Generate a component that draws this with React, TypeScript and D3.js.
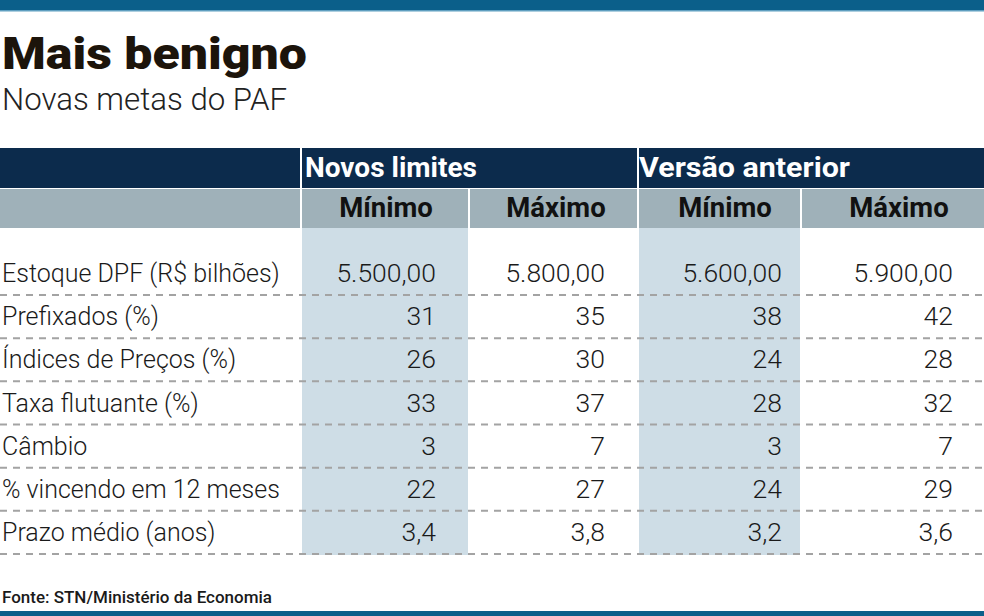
import React from "react";
import * as d3 from "d3";

const title = "Mais benigno";
const subtitle = "Novas metas do PAF";
const source = "Fonte: STN/Ministério da Economia";
const groups = ["Novos limites", "Versão anterior"];
const subHeaders = ["Mínimo", "Máximo", "Mínimo", "Máximo"];
const rowLabels = [
  "Estoque DPF (R$ bilhões)",
  "Prefixados (%)",
  "Índices de Preços (%)",
  "Taxa flutuante (%)",
  "Câmbio",
  "% vincendo em 12 meses",
  "Prazo médio (anos)",
];
const rowFormats = [",.2f", "d", "d", "d", "d", "d", ".1f"];
const novosMin = [5500, 31, 26, 33, 3, 22, 3.4];
const novosMax = [5800, 35, 30, 37, 7, 27, 3.8];
const anteriorMin = [5600, 38, 24, 28, 3, 24, 3.2];
const anteriorMax = [5900, 42, 28, 32, 7, 29, 3.6];

const columns = [novosMin, novosMax, anteriorMin, anteriorMax];

const locale = d3.formatLocale({
  decimal: ",",
  thousands: ".",
  grouping: [3],
  currency: ["R$", ""],
});

const W = 984;
const H = 616;
const FONT = "Roboto, 'Open Sans', sans-serif";

export default function App() {
  const colLeft = [302, 470, 639, 802];
  const colRight = [469, 638, 801, 984];
  const valueRight = [436, 605, 782, 953];
  const headerCenter = [386, 556, 725, 899];
  const groupLeft = [302, 639];
  const groupX = [305, 639];
  const groupWidth = [172, 211];

  const sepY = d3.scaleLinear().domain([0, rowLabels.length - 1]).range([295, 554]);

  return (
    <svg
      width={W}
      height={H}
      viewBox={`0 0 ${W} ${H}`}
      style={{ position: "absolute", left: 0, top: 0, background: "#fff" }}
      fontFamily={FONT}
    >
      <rect x={0} y={0} width={W} height={H} fill="#ffffff" />
      <rect x={0} y={0} width={W} height={10} fill="#0b5f8a" />
      <rect x={0} y={10} width={W} height={1.5} fill="#5f9fc0" />

      <text
        x={2}
        y={69}
        fontSize={45}
        fontWeight={900}
        fill="#1c140b"
        textLength={305}
        lengthAdjust="spacingAndGlyphs"
      >
        {title}
      </text>
      <text x={2} y={110} fontSize={31} fontWeight={300} fill="#222" textLength={285} lengthAdjust="spacingAndGlyphs">
        {subtitle}
      </text>

      <rect x={0} y={148} width={W} height={40} fill="#0c2b4c" />
      <rect x={0} y={189} width={W} height={39} fill="#9fb1b9" />
      {groupLeft.map((x, i) => (
        <rect key={"gs" + i} x={x - 2} y={148} width={2} height={80} fill="#ffffff" />
      ))}
      {colLeft.map((x, i) => (
        <rect key={"cs" + i} x={x - 2} y={189} width={2} height={39} fill="#ffffff" />
      ))}
      {groups.map((g, i) => (
        <text
          key={g}
          x={groupX[i]}
          y={177}
          fontSize={27}
          fontWeight={700}
          fill="#ffffff"
          textLength={groupWidth[i]}
          lengthAdjust="spacingAndGlyphs"
        >
          {g}
        </text>
      ))}
      {subHeaders.map((s, i) => (
        <text key={"sh" + i} x={headerCenter[i]} y={217} fontSize={27.5} fontWeight={700} fill="#111" textAnchor="middle">
          {s}
        </text>
      ))}

      {[0, 2].map((ci) => (
        <rect key={"sc" + ci} x={colLeft[ci]} y={228} width={colRight[ci] - colLeft[ci] - 1} height={327} fill="#cedde6" />
      ))}

      {rowLabels.map((_, i) => (
        <line
          key={"sep" + i}
          x1={0}
          x2={W}
          y1={sepY(i)}
          y2={sepY(i)}
          stroke="#a3a3a3"
          strokeWidth={2}
          strokeDasharray="7 6"
        />
      ))}

      {rowLabels.map((l, i) => (
        <text key={"l" + i} x={2} y={sepY(i) - 13} fontSize={25} fontWeight={300} fill="#1a1a1a">
          {l}
        </text>
      ))}

      {columns.map((col, ci) =>
        col.map((v, ri) => (
          <text
            key={"v" + ci + "-" + ri}
            x={valueRight[ci]}
            y={sepY(ri) - 13}
            fontSize={26.5}
            fontWeight={300}
            fill="#1a1a1a"
            textAnchor="end"
          >
            {locale.format(rowFormats[ri])(v)}
          </text>
        ))
      )}

      <text x={2} y={603} fontSize={17} fontWeight={500} fill="#1a1a1a" textLength={270} lengthAdjust="spacingAndGlyphs">
        {source}
      </text>
      <rect x={0} y={611} width={W} height={5} fill="#0b5f8a" />
    </svg>
  );
}
